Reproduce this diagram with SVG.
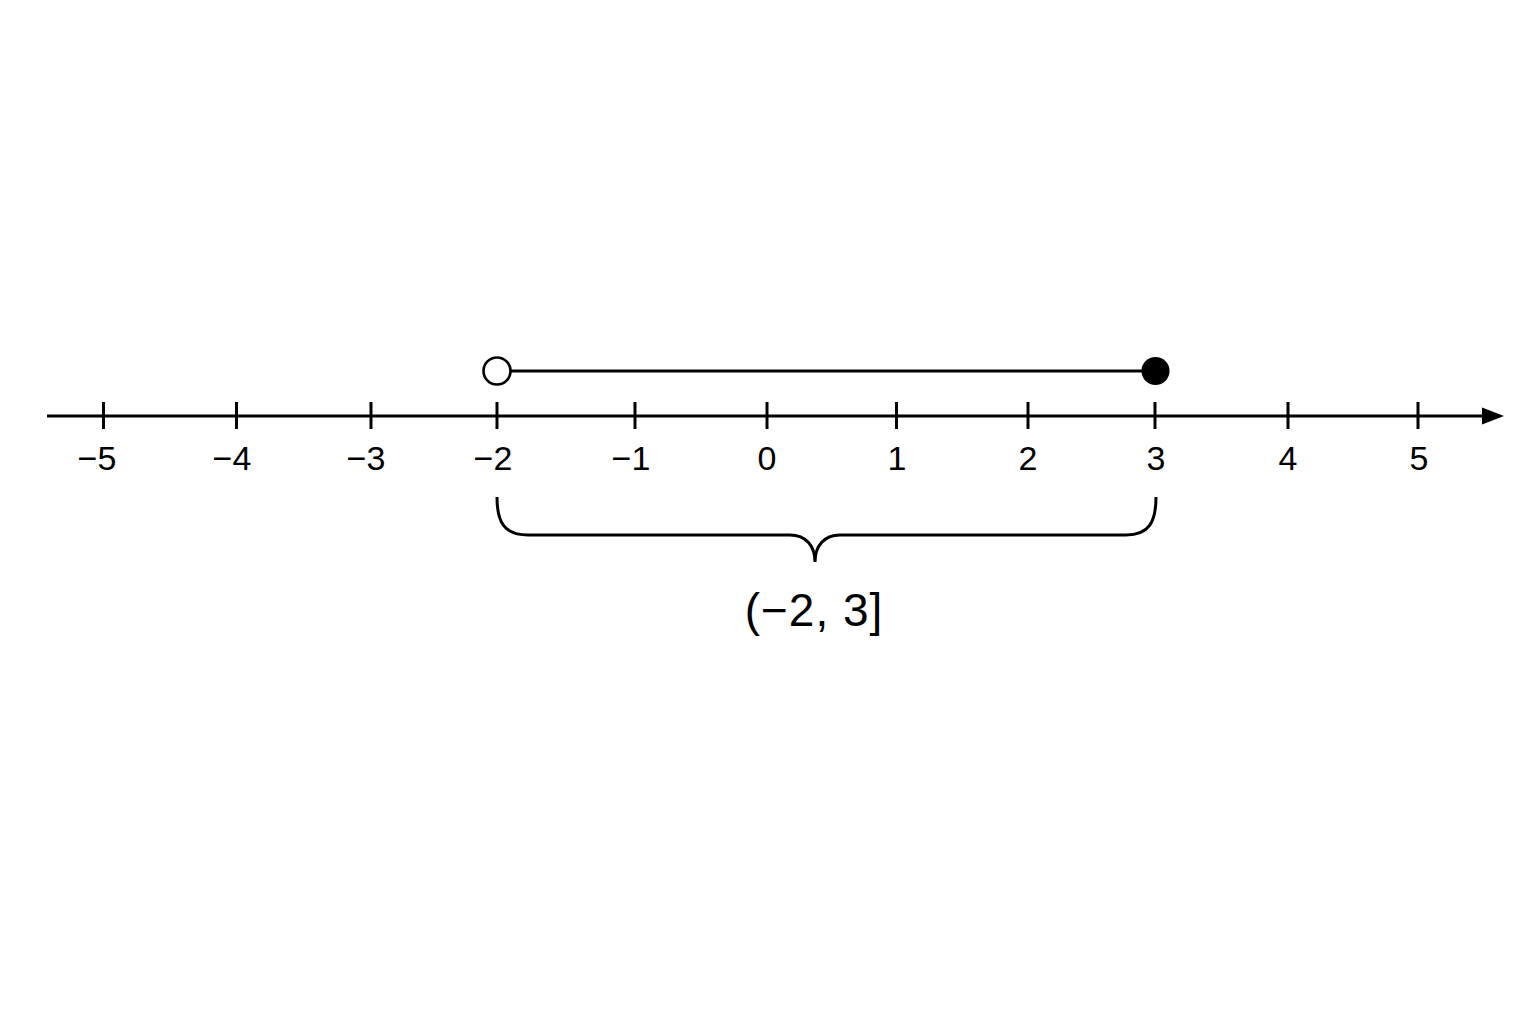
<svg xmlns="http://www.w3.org/2000/svg" width="1536" height="1024" viewBox="0 0 1536 1024">
<style>
.ax{stroke:#000;stroke-width:3;fill:none}
.tk{stroke:#000;stroke-width:3}
.lbl{font-family:"Liberation Sans",Arial,sans-serif;font-size:34px;fill:#000;text-anchor:middle}
.big{font-family:"Liberation Sans",Arial,sans-serif;font-size:46px;letter-spacing:1px;fill:#000;text-anchor:middle}
</style>
<rect width="1536" height="1024" fill="#fff"/>
<g id="connectors">
<line class="ax" x1="47" y1="416" x2="1486" y2="416"/>
<polygon points="1504,416 1482,407.5 1482,424.5" fill="#000"/>
<line class="ax" x1="510" y1="371" x2="1142" y2="371"/>
<path class="ax" stroke-width="2.6" d="M497 497 C497 522 504 535 528 535 L790 535 C806 535 815 546 815 562 C815 546 824 535 840 535 L1126 535 C1149 535 1156 522 1156 497"/>
</g>
<g id="ticks">
<line class="tk" x1="103.5" y1="402" x2="103.5" y2="429"/>
<line class="tk" x1="236.5" y1="402" x2="236.5" y2="429"/>
<line class="tk" x1="371" y1="402" x2="371" y2="429"/>
<line class="tk" x1="497" y1="402" x2="497" y2="429"/>
<line class="tk" x1="635" y1="402" x2="635" y2="429"/>
<line class="tk" x1="767" y1="402" x2="767" y2="429"/>
<line class="tk" x1="896.5" y1="402" x2="896.5" y2="429"/>
<line class="tk" x1="1028" y1="402" x2="1028" y2="429"/>
<line class="tk" x1="1155" y1="402" x2="1155" y2="429"/>
<line class="tk" x1="1288" y1="402" x2="1288" y2="429"/>
<line class="tk" x1="1418" y1="402" x2="1418" y2="429"/>
</g>
<g id="labels">
<text class="lbl" x="97" y="470">−5</text>
<text class="lbl" x="232" y="470">−4</text>
<text class="lbl" x="366" y="470">−3</text>
<text class="lbl" x="493" y="470">−2</text>
<text class="lbl" x="631" y="470">−1</text>
<text class="lbl" x="767" y="470">0</text>
<text class="lbl" x="897" y="470">1</text>
<text class="lbl" x="1028" y="470">2</text>
<text class="lbl" x="1156" y="470">3</text>
<text class="lbl" x="1288" y="470">4</text>
<text class="lbl" x="1419" y="470">5</text>
</g>
<g id="open-endpoint">
<circle cx="497" cy="371" r="13.5" fill="#fff" stroke="#000" stroke-width="2.6"/>
</g>
<g id="closed-endpoint">
<circle cx="1155.5" cy="371" r="14" fill="#000"/>
</g>
<g id="interval-label">
<text class="big" x="814" y="626">(−2, 3]</text>
</g>
</svg>
